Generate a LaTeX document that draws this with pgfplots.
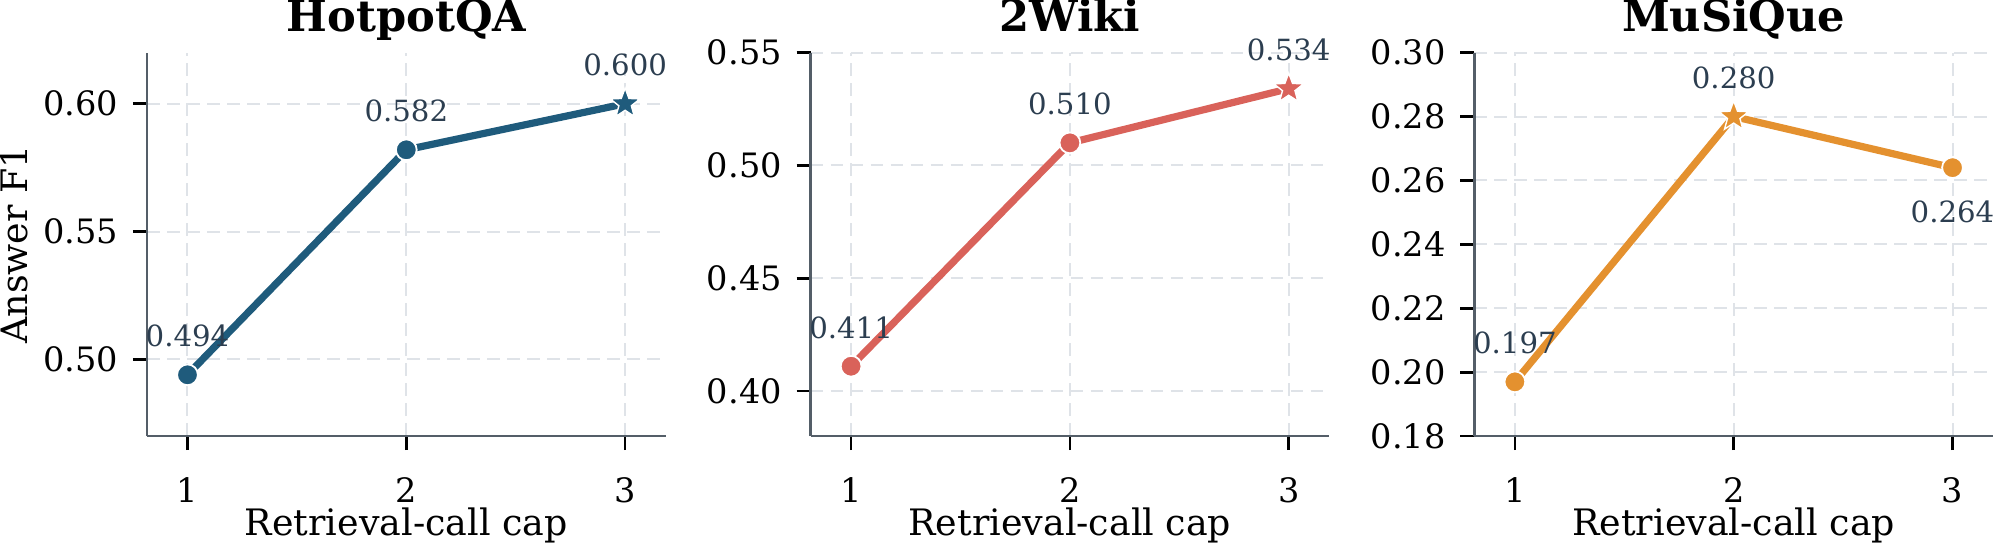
\documentclass[border=0pt]{standalone}
\usepackage{fontspec}
\setmainfont{DejaVu Serif}
\usepackage{pgfplots}
\pgfplotsset{compat=1.18}
\definecolor{cblue}{HTML}{1F5B7C}
\definecolor{cred}{HTML}{D9625A}
\definecolor{corange}{HTML}{E4912F}
\definecolor{annot}{HTML}{2C3E50}
\definecolor{spine}{HTML}{545E68}
\definecolor{gridc}{HTML}{DFE3E8}
\pgfdeclareplotmark{fstar}{%
  \pgfpathmoveto{\pgfpointpolar{90}{\pgfplotmarksize}}%
  \pgfpathlineto{\pgfpointpolar{126}{0.42\pgfplotmarksize}}%
  \pgfpathlineto{\pgfpointpolar{162}{\pgfplotmarksize}}%
  \pgfpathlineto{\pgfpointpolar{198}{0.42\pgfplotmarksize}}%
  \pgfpathlineto{\pgfpointpolar{234}{\pgfplotmarksize}}%
  \pgfpathlineto{\pgfpointpolar{270}{0.42\pgfplotmarksize}}%
  \pgfpathlineto{\pgfpointpolar{306}{\pgfplotmarksize}}%
  \pgfpathlineto{\pgfpointpolar{342}{0.42\pgfplotmarksize}}%
  \pgfpathlineto{\pgfpointpolar{18}{\pgfplotmarksize}}%
  \pgfpathlineto{\pgfpointpolar{54}{0.42\pgfplotmarksize}}%
  \pgfpathclose
  \pgfusepathqfillstroke}
\pgfplotsset{
  panel/.style={
    scale only axis, width=129.65pt, height=95.9pt, anchor=south west,
    axis x line*=bottom, axis y line*=left,
    axis line style={spine, line width=0.65pt, -},
    xmin=0.815, xmax=3.185,
    xtick={1,2,3}, xticklabels={1,2,3},
    tick align=outside, major tick length=3.5pt,
    tick style={black, line width=0.65pt},
    grid=major,
    major grid style={gridc, line width=0.5pt, dash pattern=on 3.2pt off 1.8pt},
    ticklabel style={font=\fontsize{8.4}{10}\selectfont},
    xticklabel style={anchor=north, inner sep=0pt, yshift=-6.7pt},
    yticklabel style={anchor=east, inner sep=0pt, xshift=-3.5pt},
    xlabel={Retrieval-call cap},
    xlabel style={font=\fontsize{9.1}{11}\selectfont, at={(axis description cs:0.5,-0.26)}, anchor=base, inner sep=0pt},
    title style={font=\fontsize{10.8}{12}\selectfont\bfseries, at={(axis description cs:0.5,1)}, anchor=base, yshift=-0.7pt, inner sep=0pt},
    clip=false,
  },
  dline/.style={line width=1.8pt, mark=none},
  dmark/.style={draw=none, mark=*, mark size=2.6pt, mark options={fill=#1, draw=white, line width=0.45pt}},
  dstar/.style={draw=none, mark=fstar, mark size=3.9pt, mark options={fill=#1, draw=white, line width=0.35pt}},
  lab/.style={draw=none, mark=none, nodes near coords, point meta=explicit symbolic,
    nodes near coords style={font=\fontsize{7.3}{8.5}\selectfont, text=annot, anchor=base, yshift=7pt, inner sep=0pt}},
  labbelow/.style={draw=none, mark=none, nodes near coords, point meta=explicit symbolic,
    nodes near coords style={font=\fontsize{7.3}{8.5}\selectfont, text=annot, anchor=north, yshift=-8pt, inner sep=0pt}},
}
\begin{document}
\begin{tikzpicture}
\path[use as bounding box] (0,0) rectangle (498.75pt,136.25pt);
% HotpotQA
\begin{axis}[panel, at={(36.75pt,27.2pt)}, title={HotpotQA},
  ymin=0.47, ymax=0.62, ytick={0.50,0.55,0.60}, yticklabels={0.50,0.55,0.60},
  ylabel={Answer F1},
  ylabel style={font=\fontsize{9.1}{11}\selectfont, at={(axis description cs:-0.2835,0.5)}, anchor=north, rotate=0, inner sep=0pt}]
\addplot[dline, cblue] coordinates {(1,0.494) (2,0.582) (3,0.600)};
\addplot[dmark=cblue] coordinates {(1,0.494) (2,0.582)};
\addplot[dstar=cblue] coordinates {(3,0.600)};
\addplot[lab] coordinates {(1,0.494)[0.494] (2,0.582)[0.582] (3,0.600)[0.600]};
\end{axis}
% 2Wiki
\begin{axis}[panel, at={(202.65pt,27.2pt)}, title={2Wiki},
  ymin=0.38, ymax=0.55, ytick={0.40,0.45,0.50,0.55}, yticklabels={0.40,0.45,0.50,0.55}]
\addplot[dline, cred] coordinates {(1,0.411) (2,0.510) (3,0.534)};
\addplot[dmark=cred] coordinates {(1,0.411) (2,0.510)};
\addplot[dstar=cred] coordinates {(3,0.534)};
\addplot[lab] coordinates {(1,0.411)[0.411] (2,0.510)[0.510] (3,0.534)[0.534]};
\end{axis}
% MuSiQue
\begin{axis}[panel, at={(368.6pt,27.2pt)}, title={MuSiQue},
  ymin=0.18, ymax=0.30, ytick={0.18,0.20,0.22,0.24,0.26,0.28,0.30},
  yticklabels={0.18,0.20,0.22,0.24,0.26,0.28,0.30}]
\addplot[dline, corange] coordinates {(1,0.197) (2,0.280) (3,0.264)};
\addplot[dmark=corange] coordinates {(1,0.197) (3,0.264)};
\addplot[dstar=corange] coordinates {(2,0.280)};
\addplot[lab] coordinates {(1,0.197)[0.197] (2,0.280)[0.280]};
\addplot[labbelow] coordinates {(3,0.264)[0.264]};
\end{axis}
\end{tikzpicture}
\end{document}
